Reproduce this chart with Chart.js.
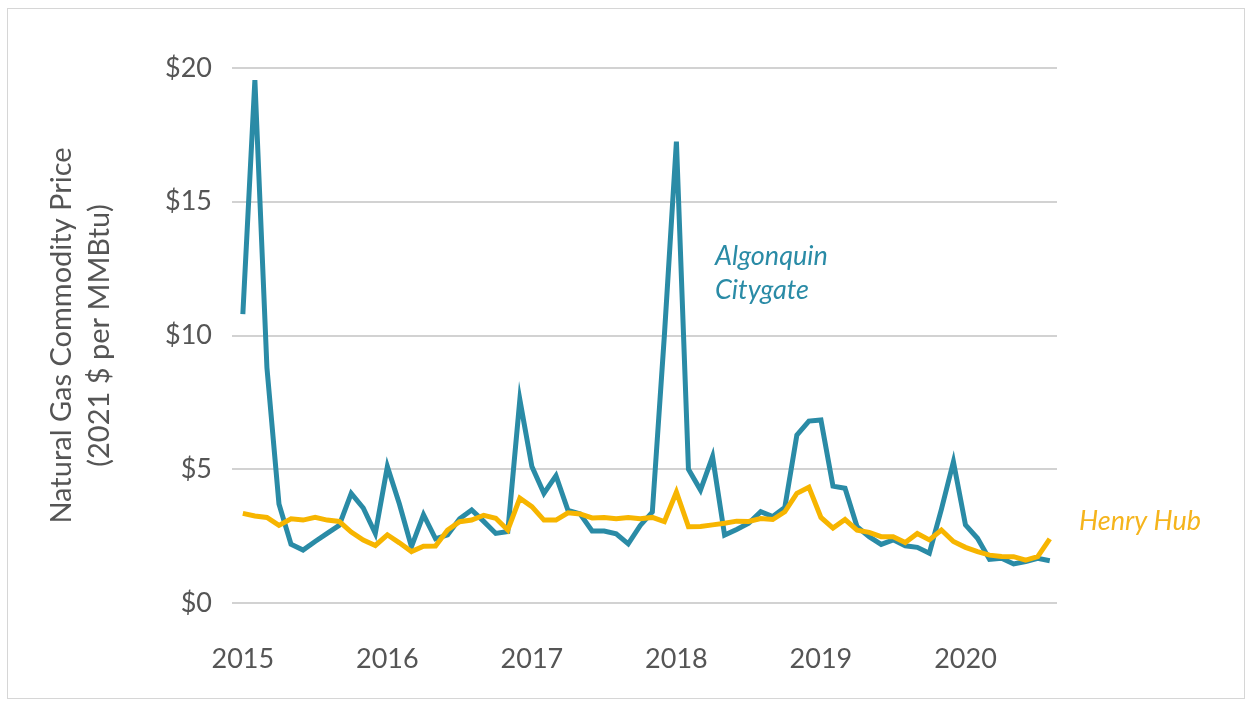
<!DOCTYPE html>
<html>
<head>
<meta charset="utf-8">
<script src="https://cdn.jsdelivr.net/npm/chart.js@4/dist/chart.umd.min.js"></script>
<style>
  html, body { margin: 0; padding: 0; background: #fff; }
  #wrap { position: relative; width: 1250px; height: 706px; }
  #frame { position: absolute; left: 7px; top: 8px; width: 1236px; height: 689px; border: 1px solid #d6d6d6; pointer-events: none; }
  canvas { position: absolute; left: 0; top: 0; }
</style>
</head>
<body>
<div id="wrap">
  <canvas id="gasChart" width="1250" height="706"></canvas>
  <div id="frame"></div>
</div>
<script>
// monthly prices, Jan 2015 - Aug 2020 (2021 $ per MMBtu)
const years = ['2015', '2016', '2017', '2018', '2019', '2020'];
const yTicks = [0, 5, 10, 15, 20];

const algonquin = [
  10.8, 19.55, 8.8, 3.7, 2.2, 1.98, 2.3, 2.6, 2.9, 4.1, 3.55, 2.6,
  5.1, 3.7, 2.1, 3.3, 2.4, 2.55, 3.15, 3.48, 3.05, 2.6, 2.67, 7.6,
  5.1, 4.1, 4.76, 3.46, 3.33, 2.69, 2.69, 2.59, 2.21, 2.9, 3.4, 10.0,
  17.25, 5.0, 4.22, 5.47, 2.54, 2.75, 2.98, 3.41, 3.23, 3.57, 6.28, 6.8,
  6.84, 4.37, 4.29, 2.85, 2.48, 2.19, 2.36, 2.14, 2.08, 1.86, 3.5, 5.28,
  2.92, 2.42, 1.63, 1.67, 1.46, 1.55, 1.67, 1.58
];
const henryHub = [
  3.35, 3.25, 3.2, 2.9, 3.15, 3.1, 3.2, 3.1, 3.05, 2.65, 2.35, 2.15,
  2.55, 2.25, 1.92, 2.12, 2.13, 2.73, 3.04, 3.1, 3.28, 3.17, 2.73, 3.92,
  3.6, 3.1, 3.1, 3.37, 3.33, 3.18, 3.2, 3.15, 3.2, 3.15, 3.2, 3.04,
  4.15, 2.85, 2.86, 2.92, 2.98, 3.06, 3.05, 3.16, 3.12, 3.41, 4.1, 4.33,
  3.2, 2.8, 3.12, 2.72, 2.64, 2.48, 2.48, 2.26, 2.6, 2.36, 2.73, 2.3,
  2.08, 1.92, 1.79, 1.74, 1.73, 1.6, 1.73, 2.4
];

const teal = '#2a8ba6';
const gold = '#f7b500';
const gray = '#555555';
const font = 'Lato, "Open Sans", sans-serif';

// series labels written straight on the plot
const seriesLabels = {
  id: 'seriesLabels',
  afterDatasetsDraw(chart) {
    const ctx = chart.ctx;
    ctx.save();
    ctx.font = 'italic 27px ' + font;
    ctx.textBaseline = 'alphabetic';
    ctx.fillStyle = teal;
    ctx.fillText('Algonquin', 715, 265);
    ctx.fillText('Citygate', 715, 299);
    ctx.fillStyle = '#f5b41c';
    ctx.fillText('Henry Hub', 1079, 530);
    ctx.restore();
  }
};

const ctx = document.getElementById('gasChart');
new Chart(ctx.getContext('2d'), {
  type: 'line',
  data: {
    datasets: [{
      label: 'Henry Hub',
      data: henryHub.map((v, i) => ({ x: i, y: v })),
      borderColor: gold,
      borderWidth: 5,
      pointRadius: 0,
      tension: 0
    }, {
      label: 'Algonquin Citygate',
      data: algonquin.map((v, i) => ({ x: i, y: v })),
      borderColor: teal,
      borderWidth: 5,
      pointRadius: 0,
      tension: 0
    }]
  },
  options: {
    responsive: false,
    animation: false,
    layout: { padding: { top: 68, right: 193, bottom: 0, left: 0 } },
    plugins: {
      legend: { display: false },
      tooltip: { enabled: false }
    },
    scales: {
      x: {
        type: 'linear',
        min: -0.9,
        max: 67.6,
        afterBuildTicks: (scale) => { scale.ticks = years.map((y, i) => ({ value: i * 12 })); },
        afterFit: (scale) => { scale.height = 103; },
        grid: { display: false, drawTicks: false },
        border: { display: false },
        ticks: {
          callback: (v) => years[v / 12],
          color: gray,
          padding: 40,
          maxRotation: 0,
          autoSkip: false,
          font: { family: font, size: 27 }
        }
      },
      y: {
        min: 0,
        max: 20,
        afterBuildTicks: (scale) => { scale.ticks = yTicks.map(v => ({ value: v })); },
        afterFit: (scale) => { scale.width = 232; },
        grid: { color: '#d2d2d2', lineWidth: 2, drawTicks: false },
        border: { display: false },
        ticks: {
          callback: (v) => '$' + v,
          color: gray,
          padding: 20,
          font: { family: font, size: 27 }
        },
        title: {
          display: true,
          text: ['Natural Gas Commodity Price', '(2021 $ per MMBtu)'],
          color: gray,
          padding: { top: 43, bottom: 0 },
          font: { family: font, size: 29, lineHeight: 1.3 }
        }
      }
    }
  },
  plugins: [seriesLabels]
});
</script>
</body>
</html>
